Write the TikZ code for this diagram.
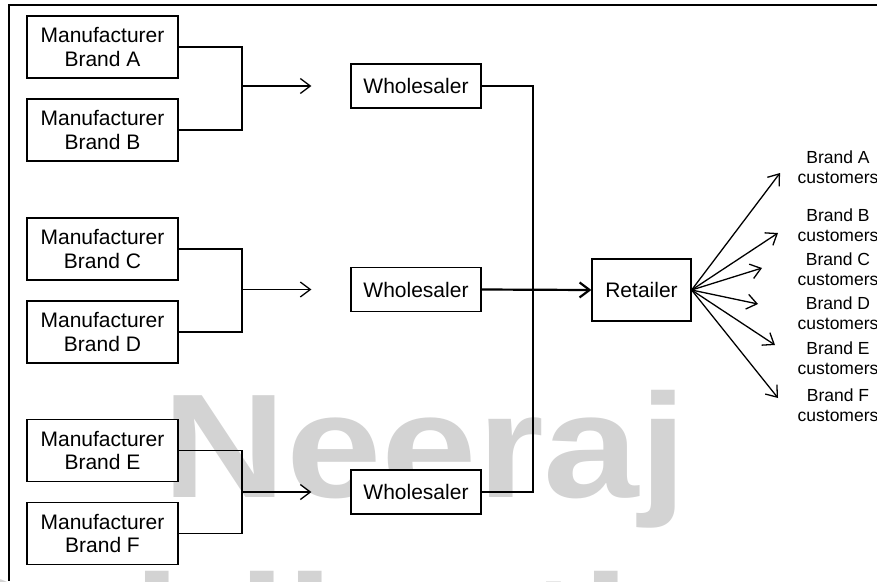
\documentclass[tikz,border=0pt]{standalone}
\usepackage{fontspec}
\setmainfont{Liberation Sans}
\usetikzlibrary{arrows.meta}
\definecolor{wmgray}{RGB}{211,211,211}
\tikzset{
	box/.style={draw, line width=1.2pt, fill=white, align=center, inner sep=0pt, font=\fontsize{21}{23.5}\selectfont},
	maker/.style={box, minimum width=151pt, minimum height=62pt},
	seller/.style={box, minimum width=130pt, minimum height=44pt},
	buyer/.style={align=center, inner sep=0pt, font=\fontsize{17.5}{19.5}\selectfont},
	link/.style={line width=1.3pt},
	flow/.style={link, -{Straight Barb[length=10pt,width=15pt]}},
	watermark/.style={text=wmgray, inner sep=0pt, anchor=base west, xscale=1.16, font=\fontsize{148}{150}\bfseries\selectfont}
}

\begin{document}
\begin{tikzpicture}[x=1pt, y=-1pt]
		%%%%% START %%%%%
		\useasboundingbox (0, 0) rectangle (877, 581);
		\clip (0, 0) rectangle (877, 581);
		
		\node[watermark] (wmTop) at (162, 497) {Neeraj};
		\node[watermark] (wmLow) at (-86, 678) {Publications};
		
		\draw[line width=1.3pt] (877, 5) -- (9, 5) -- (9, 581);
		
		\node[maker] (mA) at (102.5, 47) {Manufacturer\\Brand A};
		\node[maker] (mB) at (102.5, 130) {Manufacturer\\Brand B};
		\node[maker] (mC) at (102.5, 249) {Manufacturer\\Brand C};
		\node[maker] (mD) at (102.5, 332) {Manufacturer\\Brand D};
		\node[maker] (mE) at (102.5, 450.5) {Manufacturer\\Brand E};
		\node[maker] (mF) at (102.5, 533.5) {Manufacturer\\Brand F};
		
		\node[seller] (ws1) at (416, 86) {Wholesaler};
		\node[seller] (ws2) at (416, 289.5) {Wholesaler};
		\node[seller] (ws3) at (416, 492) {Wholesaler};
		
		\node[box, minimum width=99pt, minimum height=62pt] (ret) at (641.5, 290) {Retailer};
		
		\coordinate (jAB) at (242, 86);
		\coordinate (jCD) at (242, 289.5);
		\coordinate (jEF) at (242, 492);
		\coordinate (bus) at (533, 289.5);
		
		\draw[link] (mA.east) -| (jAB) |- (mB.east);
		\draw[link] (mC.east) -| (jCD) |- (mD.east);
		\draw[link] (mE.east) -| (jEF) |- (mF.east);
		\draw[flow, shorten >=39pt] (jAB) -- (ws1.west);
		\draw[flow, shorten >=39pt] (jCD) -- (ws2.west);
		\draw[flow, shorten >=39pt] (jEF) -- (ws3.west);
		
		\draw[link] (ws1.east) -| (bus) |- (ws3.east);
		\draw[flow, line width=2.2pt] (ws2.east) -- (ret.west);
		
		\node[buyer] (cA) at (838, 167) {Brand A\\customers};
		\node[buyer] (cB) at (838, 225) {Brand B\\customers};
		\node[buyer] (cC) at (838, 269) {Brand C\\customers};
		\node[buyer] (cD) at (838, 313) {Brand D\\customers};
		\node[buyer] (cE) at (838, 358) {Brand E\\customers};
		\node[buyer] (cF) at (838, 405) {Brand F\\customers};
		
		\coordinate (tA) at (780, 173);
		\coordinate (tB) at (778, 233);
		\coordinate (tC) at (762, 268);
		\coordinate (tD) at (758, 304);
		\coordinate (tE) at (775, 345);
		\coordinate (tF) at (778, 398);
		\foreach \t in {tA,tB,tC,tD,tE,tF}
			\draw[flow] (ret.east) -- (\t);
		%%%%% END %%%%%
\end{tikzpicture}
\end{document}
